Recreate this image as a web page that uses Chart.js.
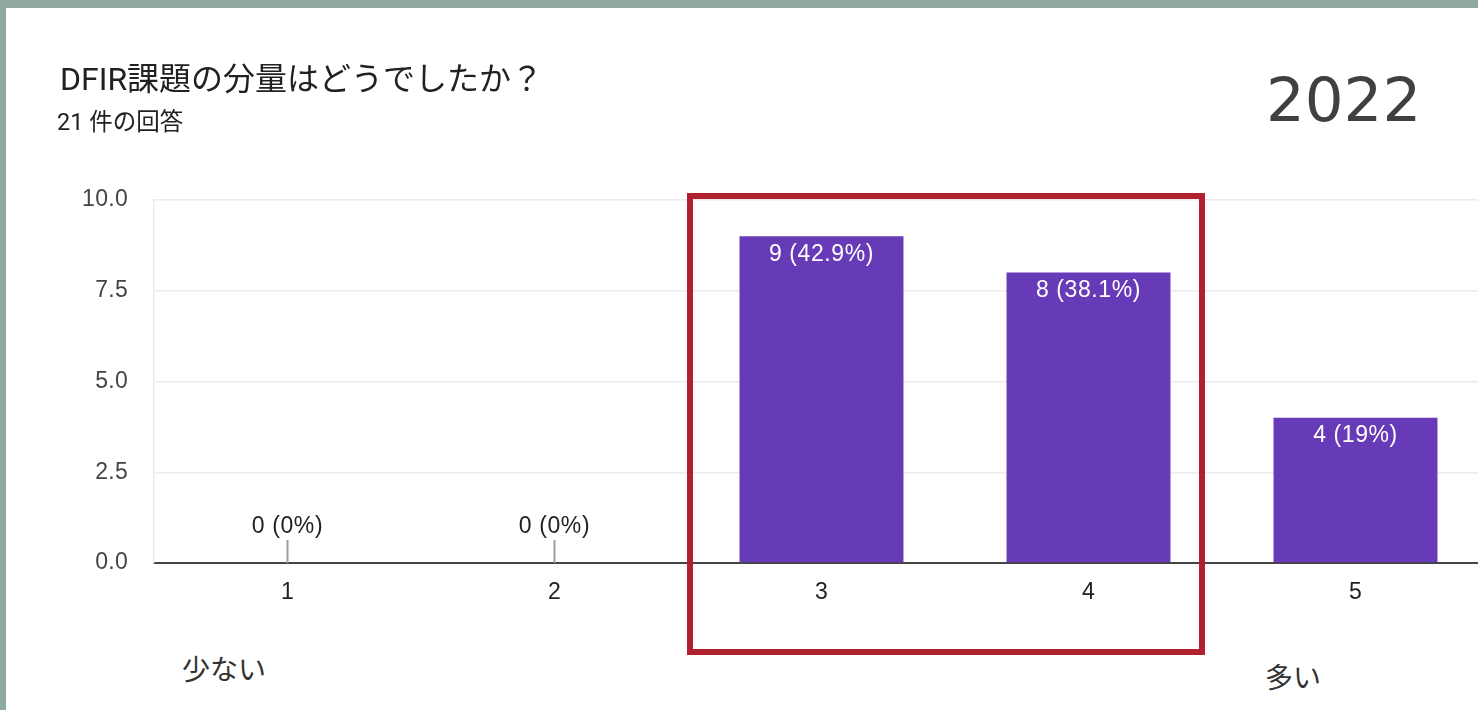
<!DOCTYPE html>
<html lang="ja">
<head>
<meta charset="utf-8">
<title>DFIR課題の分量</title>
<script src="https://cdn.jsdelivr.net/npm/chart.js@4/dist/chart.umd.min.js"></script>
<style>
  html, body {
    margin: 0;
    padding: 0;
    width: 1478px;
    height: 710px;
    overflow: hidden;
    background: #8fa99f;
  }
  .card {
    position: absolute;
    left: 6px;
    top: 8px;
    width: 1500px;
    height: 720px;
    background: #fff;
  }
  #chart {
    position: absolute;
    left: 0;
    top: 0;
  }
  .title {
    position: absolute;
    left: 60px;
    top: 53px;
    font: 32px "Roboto", "Noto Sans CJK JP", sans-serif;
    color: #202124;
    white-space: nowrap;
  }
  .count {
    position: absolute;
    left: 57px;
    top: 103px;
    font: 23.5px "Roboto", "Noto Sans CJK JP", sans-serif;
    color: #202124;
    white-space: nowrap;
  }
  .year {
    position: absolute;
    left: 1266px;
    top: 64px;
    font: 61px "DejaVu Sans", sans-serif;
    color: #404040;
  }
  .low, .high {
    position: absolute;
    font: 28px "Noto Sans CJK JP", sans-serif;
    color: #333;
    white-space: nowrap;
  }
  .low { left: 182px; top: 648px; }
  .high { left: 1265px; top: 656px; }
  .highlight {
    position: absolute;
    left: 687px;
    top: 193px;
    width: 518px;
    height: 462px;
    box-sizing: border-box;
    border: 6px solid #b0212f;
  }
</style>
</head>
<body>
<div class="card"></div>
<canvas id="chart" width="1500" height="613"></canvas>
<div class="title">DFIR課題の分量はどうでしたか？</div>
<div class="count">21 件の回答</div>
<div class="year">2022</div>
<div class="low">少ない</div>
<div class="high">多い</div>
<div class="highlight"></div>

<script>
// scale answers 1..5 and how many picked each
const scaleLabels = ["1", "2", "3", "4", "5"];
const responseCounts = [0, 0, 9, 8, 4];
const responseShares = ["0%", "0%", "42.9%", "38.1%", "19%"];

// y axis range
const yMin = 0;
const yMax = 10;
const yStep = 2.5;

const BAR_COLOR = "#673ab7";
const LABEL_FONT = '23px "Liberation Sans", Arial, sans-serif';

// draws "n (x%)" on each bar, or a small stub for zero bars
const barLabels = {
  id: "barLabels",
  afterDatasetsDraw(chart) {
    const ctx = chart.ctx;
    const meta = chart.getDatasetMeta(0);
    const base = chart.scales.y.getPixelForValue(0);

    ctx.save();
    ctx.font = LABEL_FONT;
    ctx.letterSpacing = "0.6px";
    ctx.textAlign = "center";
    ctx.textBaseline = "middle";

    meta.data.forEach((bar, i) => {
      const value = responseCounts[i];
      const text = value + " (" + responseShares[i] + ")";
      if (value > 0) {
        ctx.fillStyle = "#ffffff";
        ctx.fillText(text, bar.x, bar.y + 18);
      } else {
        ctx.strokeStyle = "#9e9e9e";
        ctx.lineWidth = 2;
        ctx.beginPath();
        ctx.moveTo(bar.x, base);
        ctx.lineTo(bar.x, base - 23);
        ctx.stroke();
        ctx.fillStyle = "#222222";
        ctx.fillText(text, bar.x, base - 36);
      }
    });
    ctx.restore();
  },
};

// slightly wider tick text, like the screenshot
const tickSpacing = {
  id: "tickSpacing",
  beforeDraw(chart) {
    chart.ctx.letterSpacing = "0.3px";
  },
};

const canvas = document.getElementById("chart");
const ctx = canvas.getContext("2d");

new Chart(ctx, {
  type: "bar",
  data: {
    labels: scaleLabels,
    datasets: [
      {
        data: responseCounts,
        backgroundColor: BAR_COLOR,
        borderWidth: 0,
        barPercentage: 0.614,
        categoryPercentage: 1.0,
      },
    ],
  },
  options: {
    responsive: false,
    animation: false,
    layout: {
      padding: { top: 200, right: 11, left: 0, bottom: 0 },
    },
    plugins: {
      legend: { display: false },
      tooltip: { enabled: false },
    },
    scales: {
      x: {
        afterFit: (scale) => {
          scale.height = 50;
        },
        grid: { display: false, drawTicks: false },
        border: { display: true, color: "#444444", width: 2 },
        ticks: {
          padding: 16,
          color: "#222222",
          font: { family: '"Liberation Sans", Arial, sans-serif', size: 23 },
        },
      },
      y: {
        min: yMin,
        max: yMax,
        afterFit: (scale) => {
          scale.width = 154;
        },
        grid: {
          color: (c) => (c.tick && c.tick.value === 0 ? "rgba(0,0,0,0)" : "#ebebeb"),
          lineWidth: 1.5,
          drawTicks: false,
        },
        border: { display: true, color: "#ebebeb", width: 1.5 },
        ticks: {
          stepSize: yStep,
          padding: 26,
          color: "#444444",
          font: { family: '"Liberation Sans", Arial, sans-serif', size: 23 },
          callback: (value) => Number(value).toFixed(1),
        },
      },
    },
  },
  plugins: [tickSpacing, barLabels],
});
</script>
</body>
</html>
